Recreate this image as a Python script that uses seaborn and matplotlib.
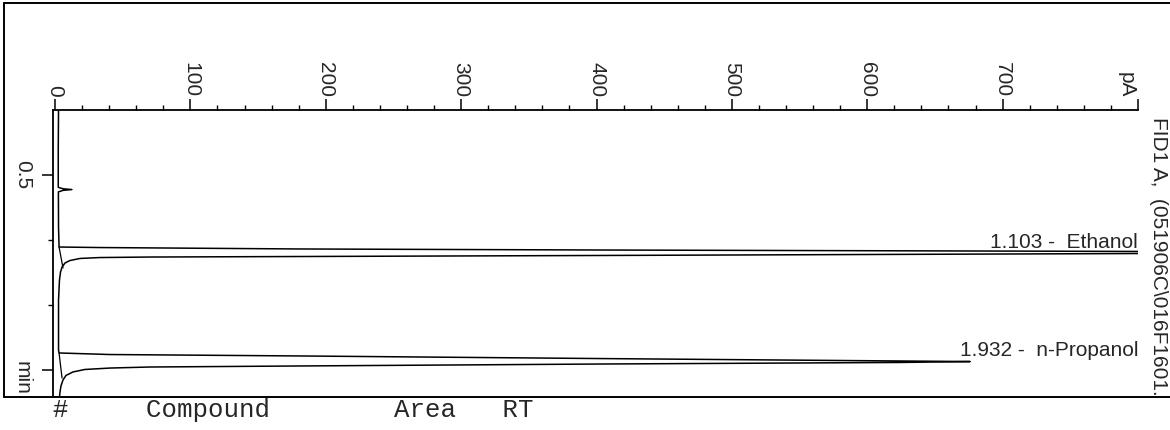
import numpy as np
import matplotlib
matplotlib.use('Agg')
import matplotlib.pyplot as plt
from matplotlib.lines import Line2D
import seaborn as sns

# chromatogram trace (time in min, signal in pA)
tempo_min = [0.000, 0.300, 0.595, 0.606, 0.612, 0.618, 0.630, 0.900,
             1.054, 1.058, 1.069, 1.077, 1.088, 1.097,
             1.104, 1.119, 1.127, 1.131, 1.135, 1.142, 1.158, 1.177, 1.208, 1.246, 1.308, 1.462,
             1.846, 1.869, 1.881, 1.892, 1.912, 1.935,
             1.942, 1.954, 1.969, 1.977, 1.985, 1.996, 2.015, 2.042, 2.077, 2.123, 2.169, 2.208]
sinal_pA = [2.6, 2.4, 2.4, 6.0, 12.5, 6.0, 2.5, 2.6,
            3.0, 33, 181, 403, 800, 950,
            800, 403, 181, 70, 33, 18.5, 11, 7.4, 5.2, 4.1, 3.3, 2.6,
            2.6, 3.0, 40.6, 181, 403, 676,
            624, 403, 181, 70, 40.6, 22, 13.3, 8.1, 5.9, 4.4, 3.7, 3.3]

# integration baselines under the two peaks
linha_base_t = [[1.054, 1.215], [1.869, 2.062]]
linha_base_pA = [[3.0, 5.9], [3.0, 5.2]]

# peak table
picos_rt = [1.103, 1.932]
picos_nome = ['Ethanol', 'n-Propanol']

# axis ticks
ticks_pA = [0, 100, 200, 300, 400, 500, 600, 700, 800]
ticks_pA_rotulos = ['0', '100', '200', '300', '400', '500', '600', '700', '']
ticks_tempo = [0.5, 2.0]
ticks_tempo_rotulos = ['0.5', '']

sns.set_style('white')
plt.rcParams['font.family'] = ['Liberation Sans', 'DejaVu Sans']

W, H = 1170, 430
fig = plt.figure(figsize=(W / 100, H / 100), dpi=100)
fig.patch.set_facecolor('white')

# the chart is printed turned by 90 degrees: pA runs left->right, time runs top->bottom
ax = fig.add_axes([53 / W, 1 - 397 / H, (1138 - 53) / W, (397 - 110) / H])
sns.lineplot(x=sinal_pA, y=tempo_min, orient='y', sort=False, estimator=None,
             color='black', linewidth=1.1, ax=ax)
for bt, bp in zip(linha_base_t, linha_base_pA):
    ax.plot(bp, bt, color='black', linewidth=0.9)

ax.set_xlim(-1.48, 800)
ax.set_ylim(2.2077, 0)

for lado in ['right', 'bottom']:
    ax.spines[lado].set_visible(False)
for lado in ['left', 'top']:
    ax.spines[lado].set_linewidth(1.3)
    ax.spines[lado].set_color('black')

ax.xaxis.tick_top()
ax.set_xticks(ticks_pA, ticks_pA_rotulos)
ax.set_xticks(np.arange(0, 801, 20), minor=True)
ax.set_yticks(ticks_tempo, ticks_tempo_rotulos)
ax.set_yticks([1.0, 1.5], minor=True)
ax.tick_params(axis='both', which='major', direction='out', length=8, width=1.1,
               color='black', labelsize=15, labelrotation=-90)
ax.tick_params(axis='both', which='minor', direction='out', length=3.6, width=1.0, color='black')
ax.tick_params(axis='x', which='major', pad=1.5, top=True, bottom=False)
ax.tick_params(axis='x', which='minor', top=True, bottom=False)
ax.tick_params(axis='y', which='both', left=True)
ax.tick_params(axis='y', which='major', pad=7)
for lbl in ax.get_yticklabels():
    lbl.set_va('center')
ax.set_xlabel('')
ax.set_ylabel('')

# unit labels that take the place of the last tick labels
ax.text(1126 / W, 1 - 97 / H, 'pA', transform=fig.transFigure, rotation=-90,
        ha='center', va='bottom', fontsize=15)
ax.text(32 / W, 1 - 378 / H, 'min', transform=fig.transFigure, rotation=-90,
        ha='right', va='center', fontsize=15)

# peak labels
for rt, nome in zip(picos_rt, picos_nome):
    ax.text(1.0, rt - 0.042, f'{rt:.3f} -  {nome}', transform=ax.get_yaxis_transform(),
            ha='right', va='baseline', fontsize=15)

# signal description on the right
fig.text(1149 / W, 1 - 117 / H, r'FID1 A,  (051906C\016F1601.', rotation=-90,
         ha='left', va='top', fontsize=15)

# outer frame
fig.add_artist(Line2D([4 / W, 4 / W], [1 - 3 / H, 1 - 397 / H], color='black', lw=1.4))
fig.add_artist(Line2D([4 / W, 1.0], [1 - 3 / H, 1 - 3 / H], color='black', lw=1.4))
fig.add_artist(Line2D([4 / W, 1.0], [1 - 397 / H, 1 - 397 / H], color='black', lw=1.4))

# report table header
fig.text(53 / W, 1 - 417 / H, '#     Compound        Area   RT', family='Liberation Mono',
         fontsize=18.5, va='baseline', ha='left')

fig.savefig('out.png', dpi=100)
